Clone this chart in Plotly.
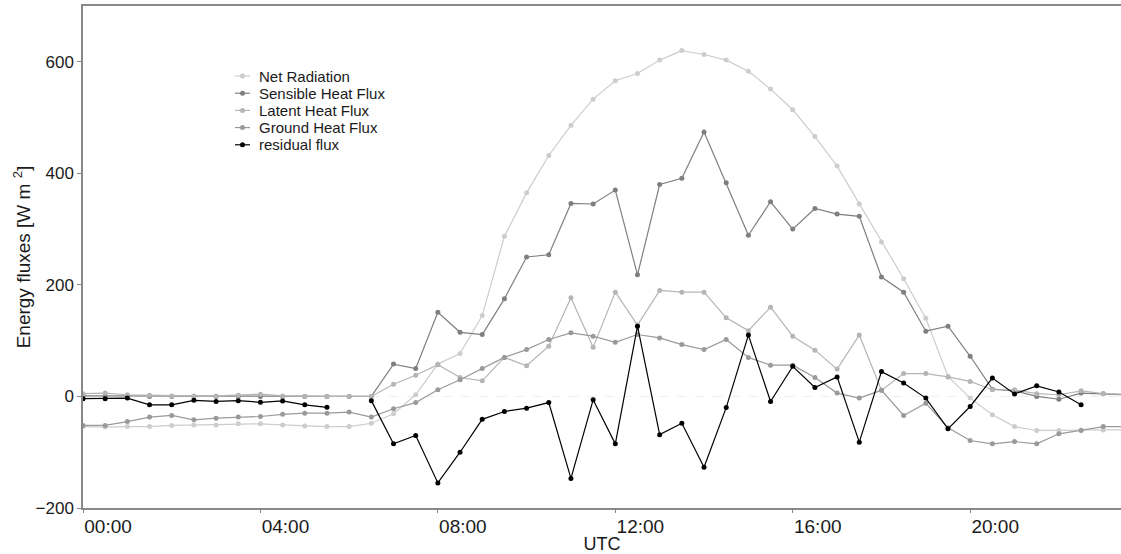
import plotly.graph_objects as go

# Half-hourly time stamps (UTC)
times = [f"{h:02d}:{m:02d}" for h in range(24) for m in (0, 30)]

net_radiation = [-54, -55, -54, -54, -52, -51, -51, -49, -49, -51, -53, -54,
                 -54, -48, -31, 3, 58, 77, 145, 287, 365, 432, 486, 533,
                 566, 579, 603, 620, 613, 603, 583, 551, 514, 466, 413, 345,
                 277, 211, 140, 36, -3, -33, -54, -61, -61, -60, -60, -60]

sensible_heat = [1, 1, 0, 0, 0, 0, 0, 0, 0, 0, 0, 0,
                 0, 0, 58, 50, 151, 115, 111, 175, 250, 254, 346, 345,
                 370, 218, 380, 391, 474, 383, 289, 349, 300, 337, 327, 323,
                 214, 187, 117, 126, 72, 13, 10, 0, -5, 6, 5, 3]

latent_heat = [5, 6, 3, 2, 1, 1, 1, 2, 4, 1, 0, 0,
               0, 0, 22, 38, 57, 34, 28, 70, 55, 90, 177, 88,
               187, 128, 190, 187, 187, 141, 118, 160, 108, 83, 49, 110,
               11, 41, 41, 35, 27, 12, 12, 5, 3, 10, 5, 4]

ground_heat = [-52, -52, -45, -37, -34, -42, -39, -37, -36, -32, -30, -30,
               -28, -37, -22, -11, 12, 30, 50, 70, 84, 102, 114, 108,
               97, 111, 105, 93, 84, 102, 70, 56, 56, 34, 6, -3,
               11, -34, -12, -56, -79, -85, -81, -85, -67, -61, -54, -54]

residual_flux = [-4, -4, -3, -15, -15, -7, -9, -7.5, -10.5, -8, -15, -19.5,
                 None, -7.5, -85, -70, -155, -100, -41, -27, -21, -11, -147, -6,
                 -85, 126, -68.5, -48, -127, -20, 110, -9, 54, 16, 35, -82,
                 44.5, 24, -3, -58, -18, 33, 4.5, 19, 8, -15, None, None]

tick_labels = ["00:00", "04:00", "08:00", "12:00", "16:00", "20:00"]

hours = [int(t[:2]) + int(t[3:]) / 60 for t in times]
tick_hours = [int(t[:2]) + int(t[3:]) / 60 for t in tick_labels]

series = [
    ("Net Radiation", net_radiation, "#cdcdcd"),
    ("Sensible Heat Flux", sensible_heat, "#7f7f7f"),
    ("Latent Heat Flux", latent_heat, "#b5b5b5"),
    ("Ground Heat Flux", ground_heat, "#9a9a9a"),
    ("residual flux", residual_flux, "#000000"),
]

W, H = 1121, 554
M_L, M_R, M_T, M_B = 83, 0, 6, 46
plot_w = W - M_L - M_R
plot_h = H - M_T - M_B

fig = go.Figure()
for name, vals, color in series:
    fig.add_trace(go.Scatter(
        x=hours, y=vals, name=name, mode="lines+markers",
        line=dict(color=color, width=1.2),
        marker=dict(color=color, size=5),
        connectgaps=False, showlegend=False,
    ))

font_family = "Liberation Sans, Arial, sans-serif"

# Compact key in the upper-left part of the panel (pixel layout -> paper coords)
def px_x(px):
    return (px - M_L) / plot_w


def px_y(py):
    return (H - M_B - py) / plot_h


key_shapes, key_notes = [], []
row0, row_gap = 76, 17.2
for k, (name, _, color) in enumerate(series):
    ry = px_y(row0 + k * row_gap)
    key_shapes.append(dict(type="line", xref="paper", yref="paper",
                           x0=px_x(235), x1=px_x(250), y0=ry, y1=ry,
                           line=dict(color=color, width=1.2)))
    key_shapes.append(dict(type="circle", xref="paper", yref="paper",
                           x0=px_x(240), x1=px_x(245),
                           y0=ry - 2.5 / plot_h, y1=ry + 2.5 / plot_h,
                           fillcolor=color, line=dict(color=color, width=0)))
    key_notes.append(dict(text=name, xref="paper", yref="paper",
                          x=px_x(257), y=ry, xanchor="left", yanchor="middle",
                          showarrow=False,
                          font=dict(size=15, family=font_family, color="#1a1a1a")))

zero_ref = dict(type="line", xref="paper", x0=0, x1=1, yref="y", y0=0, y1=0,
                line=dict(color="#eeeeee", width=1, dash="dash"), layer="below")

fig.update_layout(
    width=W, height=H,
    margin=dict(l=M_L, r=M_R, t=M_T, b=M_B),
    plot_bgcolor="white", paper_bgcolor="white",
    font=dict(family=font_family, color="#1a1a1a"),
    showlegend=False,
    xaxis=dict(
        range=[0, 23.4], tickvals=tick_hours, ticktext=tick_labels,
        ticks="outside", ticklen=3, tickcolor="#888888",
        ticklabelposition="outside right",
        showline=True, linecolor="#888888", linewidth=1.5, mirror=True,
        showgrid=False, zeroline=False,
        tickfont=dict(size=19),
        title=dict(text="UTC", font=dict(size=18), standoff=0),
    ),
    yaxis=dict(
        range=[-200, 700], tickvals=[-200, 0, 200, 400, 600],
        ticks="outside", ticklen=4, tickcolor="#888888",
        showline=True, linecolor="#888888", linewidth=1.5,
        showgrid=False, zeroline=False,
        tickfont=dict(size=17),
        title=dict(text="Energy fluxes [W m <sup>2</sup>]", font=dict(size=19), standoff=0),
    ),
    shapes=[zero_ref] + key_shapes,
    annotations=key_notes,
)

fig.write_html("out.html")
